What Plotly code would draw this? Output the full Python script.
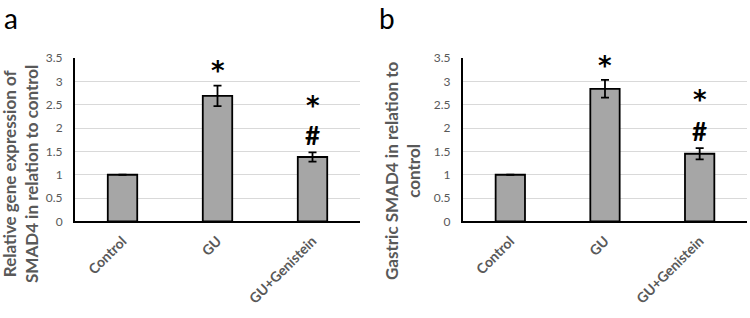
import plotly.graph_objects as go

categories = ["Control", "GU", "GU+Genistein"]
values_a = [1.0, 2.69, 1.38]
errors_a = [0.0, 0.22, 0.10]
values_b = [1.0, 2.84, 1.45]
errors_b = [0.0, 0.19, 0.12]
y_ticks = [0, 0.5, 1, 1.5, 2, 2.5, 3, 3.5]
y_tick_labels = ["0", "0.5", "1", "1.5", "2", "2.5", "3", "3.5"]
# significance markers: (category, y position, symbol)
marks_a = [("GU", 3.23, "*"), ("GU+Genistein", 2.48, "*"), ("GU+Genistein", 1.86, "#")]
marks_b = [("GU", 3.33, "*"), ("GU+Genistein", 2.61, "*"), ("GU+Genistein", 1.94, "#")]

GRAY_TXT = "#595959"
FONT = "Lato, Open Sans, Liberation Sans, Arial, sans-serif"

fig = go.Figure()
for vals, errs, xa, ya in [(values_a, errors_a, "x", "y"), (values_b, errors_b, "x2", "y2")]:
    fig.add_trace(go.Bar(
        x=categories, y=vals, width=0.31,
        marker=dict(color="#a6a6a6", line=dict(color="black", width=1.8)),
        error_y=dict(type="data", array=errs, visible=True, color="black",
                     thickness=1.8, width=4),
        xaxis=xa, yaxis=ya, showlegend=False,
    ))

ydom = [0.3035, 0.8176]
common_x = dict(type="category", range=[-0.5, 2.5], showline=True, linecolor="black",
                linewidth=2, ticks="", tickangle=-45, showgrid=False, automargin=False,
                ticklabelstandoff=4,
                tickfont=dict(family=FONT, size=14, color=GRAY_TXT, weight="bold"))
common_y = dict(range=[0, 3.5], tickvals=y_ticks, ticktext=y_tick_labels,
                showline=True, linecolor="black", linewidth=2, ticks="",
                gridcolor="#d9d9d9", gridwidth=1, zeroline=False, automargin=False,
                ticklabelstandoff=8,
                tickfont=dict(family=FONT, size=12, color=GRAY_TXT))

fig.update_layout(
    width=750, height=318, margin=dict(l=0, r=0, t=0, b=0, autoexpand=False),
    plot_bgcolor="white", paper_bgcolor="white",
    xaxis=dict(domain=[0.1, 0.48], anchor="y", **common_x),
    yaxis=dict(domain=ydom, anchor="x", **common_y),
    xaxis2=dict(domain=[0.6173, 0.996], anchor="y2", **common_x),
    yaxis2=dict(domain=ydom, anchor="x2", **common_y),
)

annotations = []
for marks, xr, yr in [(marks_a, "x", "y"), (marks_b, "x2", "y2")]:
    for cat, yv, sym in marks:
        if sym == "*":
            f = dict(family="DejaVu Sans, sans-serif", size=26, color="black", weight="bold")
        else:
            f = dict(family=FONT, size=26, color="black", weight="bold")
        annotations.append(dict(x=cat, y=yv, xref=xr, yref=yr, text=sym, showarrow=False,
                                font=f))
annotations += [
    dict(x=2/750, y=1-18/318, xref="paper", yref="paper", text="a", showarrow=False,
         xanchor="left", yanchor="middle", font=dict(family=FONT, size=28, color="black")),
    dict(x=377/750, y=1-18/318, xref="paper", yref="paper", text="b", showarrow=False,
         xanchor="left", yanchor="middle", font=dict(family=FONT, size=28, color="black")),
    dict(x=20/750, y=1-174/318, xref="paper", yref="paper", textangle=-90, showarrow=False,
         xanchor="center", yanchor="middle",
         text="Relative gene expression of<br>SMAD4 in relation to control",
         font=dict(family=FONT, size=17, color=GRAY_TXT, weight="bold")),
    dict(x=402/750, y=1-171/318, xref="paper", yref="paper", textangle=-90, showarrow=False,
         xanchor="center", yanchor="middle",
         text="Gastric SMAD4 in relation to<br>control",
         font=dict(family=FONT, size=17, color=GRAY_TXT, weight="bold")),
]
fig.update_layout(annotations=annotations)

fig.write_html("out.html", config={"displayModeBar": False},
               post_script="document.body.style.margin='0';")
